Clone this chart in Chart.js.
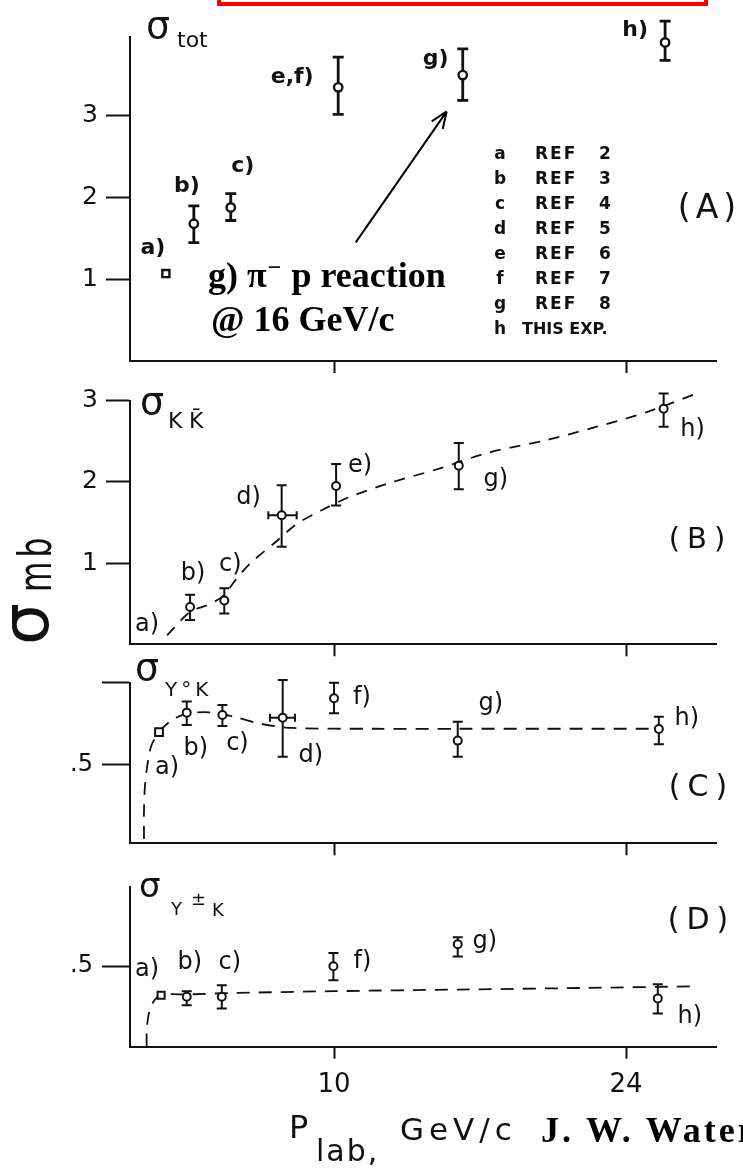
<!DOCTYPE html>
<html>
<head>
<meta charset="utf-8">
<script src="https://cdn.jsdelivr.net/npm/chart.js@4/dist/chart.umd.min.js"></script>
<style>
  html, body { margin: 0; padding: 0; background: #fff; }
  #wrap { position: relative; width: 743px; height: 1173px; overflow: hidden; background: #fff; }
  #wrap canvas { position: absolute; left: 0; top: 0; }
</style>
</head>
<body>
<div id="wrap">
  <canvas id="panelA" width="743" height="1173"></canvas>
  <canvas id="panelB" width="743" height="1173"></canvas>
  <canvas id="panelC" width="743" height="1173"></canvas>
  <canvas id="panelD" width="743" height="1173"></canvas>
</div>
<script>
// ---------------- data ----------------
// beam momentum axis (GeV/c), shared by all four panels
const pMin = 0.22, pMax = 28.31;
const xTickValues = [10, 24];
const xTickLabels = ['10', '24'];

// (A) total cross section sigma_tot (mb)
const totLetters = ['a', 'b', 'c', 'e,f', 'g', 'h'];
const totP       = [1.94, 3.28, 5.05, 10.2, 16.17, 25.87];
const totSigma   = [1.07, 1.68, 1.88, 3.35, 3.50, 3.90];
const totHi      = [null, 1.90, 2.05, 3.72, 3.82, 4.16];
const totLo      = [null, 1.45, 1.72, 3.02, 3.19, 3.68];
const totTicks      = [1, 2, 3];
const totTickLabels = ['1', '2', '3'];

// (B) sigma_KKbar (mb)
const kkLetters = ['b', 'c', 'd', 'e', 'g', 'h'];
const kkP       = [3.10, 4.74, 7.49, 10.1, 15.98, 25.8];
const kkSigma   = [0.46, 0.54, 1.59, 1.95, 2.20, 2.90];
const kkHi      = [0.61, 0.69, 1.96, 2.22, 2.48, 3.09];
const kkLo      = [0.30, 0.38, 1.20, 1.71, 1.91, 2.68];
const kkPLo     = [null, null, 6.85, null, null, null];
const kkPHi     = [null, null, 8.21, null, null, null];
const kkCurveP     = [2.0, 3.1, 4.0, 4.7, 5.3, 6.0, 7.2, 8.2, 9.4, 10.7, 12.7, 15.0, 17.4, 20.1, 22.6, 25.0, 27.4];
const kkCurveSigma = [0.11, 0.40, 0.49, 0.60, 0.80, 1.00, 1.26, 1.48, 1.65, 1.81, 1.99, 2.16, 2.36, 2.51, 2.68, 2.86, 3.09];
const kkTicks      = [1, 2, 3];
const kkTickLabels = ['1', '2', '3'];

// (C) sigma_Y0K (mb)
const y0Letters = ['a', 'b', 'c', 'd', 'f', 'g', 'h'];
const y0P       = [1.61, 2.94, 4.65, 7.54, 10.0, 15.93, 25.57];
const y0Sigma   = [0.70, 0.818, 0.804, 0.787, 0.905, 0.648, 0.719];
const y0Hi      = [null, 0.885, 0.865, 1.016, 1.0, 0.763, 0.793];
const y0Lo      = [null, 0.743, 0.737, 0.55, 0.814, 0.55, 0.626];
const y0PLo     = [null, null, null, 6.93, null, null, null];
const y0PHi     = [null, null, null, 8.13, null, null, null];
const y0CurveP     = [0.89, 0.89, 0.93, 1.02, 1.12, 1.25, 1.61, 2.2, 2.9, 4.0, 5.3, 6.5, 8.0, 12, 16, 20, 25.3];
const y0CurveSigma = [0.05, 0.22, 0.36, 0.47, 0.55, 0.62, 0.70, 0.77, 0.81, 0.82, 0.79, 0.75, 0.725, 0.72, 0.72, 0.72, 0.72];
const y0Ticks      = [0.5, 1.0];
const y0TickLabels = ['.5', ''];

// (D) sigma_Y±K (mb)
const ycLetters = ['a', 'b', 'c', 'f', 'g', 'h'];
const ycP       = [1.71, 2.94, 4.62, 9.97, 15.93, 25.52];
const ycSigma   = [0.32, 0.31, 0.31, 0.50, 0.636, 0.30];
const ycHi      = [null, 0.345, 0.382, 0.582, 0.68, 0.388];
const ycLo      = [null, 0.258, 0.238, 0.413, 0.56, 0.207];
const ycCurveP     = [1.02, 1.02, 1.1, 1.3, 1.71, 3, 5, 10, 16, 22, 27.3];
const ycCurveSigma = [0.0, 0.09, 0.19, 0.27, 0.32, 0.325, 0.333, 0.345, 0.355, 0.365, 0.375];
const ycTicks      = [0.5];
const ycTickLabels = ['.5'];

// reference key
const legendKeys = ['a', 'b', 'c', 'd', 'e', 'f', 'g', 'h'];
const legendRefs = ['REF', 'REF', 'REF', 'REF', 'REF', 'REF', 'REF', 'THIS EXP.'];
const legendNums = ['2', '3', '4', '5', '6', '7', '8', ''];

// ---------------- styling ----------------
const W = 743, H = 1173;
const INK = '#111';
const SANS = '"DejaVu Sans", "Liberation Sans", sans-serif';
const SERIF = '"Liberation Serif", "DejaVu Serif", serif';
const PLOT_RIGHT = 716;

Chart.defaults.font.family = SANS;
Chart.defaults.color = INK;

const specs = {
  panelA: {
    letters: totLetters, p: totP, sigma: totSigma, hi: totHi, lo: totLo,
    yTicks: totTicks, yTickLabels: totTickLabels, yMin: 0, yMax: 3.97,
    top: 36.7, bottom: 361, yTickLen: 24, yTickPad: 8, yFont: 25, showX: false, xHeight: 0,
    barW: 2.8, capW: 5.5, r: 4.2, sq: 5, pw: 2.4,
    labelFont: 'bold 22px ' + SANS,
    offsets: { 'a': [-13, -25], 'b': [-7, -37], 'c': [12, -41], 'e,f': [-46, -10], 'g': [-27, -16], 'h': [-30, -12] },
    tag: { text: '(A)', x: 707, y: 209, size: 33, spacing: 5 },
    title: [ { t: 'σ', x: 146, y: 38, f: '38px' }, { t: 'tot', x: 177, y: 47, f: '22px' } ]
  },
  panelB: {
    letters: kkLetters, p: kkP, sigma: kkSigma, hi: kkHi, lo: kkLo, pLo: kkPLo, pHi: kkPHi,
    curveP: kkCurveP, curveSigma: kkCurveSigma, dash: [11, 9],
    yTicks: kkTicks, yTickLabels: kkTickLabels, yMin: 0, yMax: 3.0,
    top: 400.7, bottom: 644.3, yTickLen: 24, yTickPad: 8, yFont: 25, showX: false, xHeight: 0,
    barW: 2, capW: 5, r: 4, sq: 5, pw: 2,
    labelFont: '24px ' + SANS,
    curveLabel: { text: 'a)', d: [-20, -11] },
    offsets: { 'b': [3, -33], 'c': [6, -36], 'd': [-33, -17], 'e': [24, -20], 'g': [37, 14], 'h': [29, 21] },
    tag: { text: '(B)', x: 697, y: 540, size: 29, spacing: 7 },
    title: [ { t: 'σ', x: 140, y: 414, f: '38px' }, { t: 'K', x: 168, y: 428, f: '22px' }, { t: 'K\u0304', x: 189, y: 428, f: '22px' } ]
  },
  panelC: {
    letters: y0Letters, p: y0P, sigma: y0Sigma, hi: y0Hi, lo: y0Lo, pLo: y0PLo, pHi: y0PHi,
    curveP: y0CurveP, curveSigma: y0CurveSigma, dash: [13, 9],
    yTicks: y0Ticks, yTickLabels: y0TickLabels, yMin: 0.024, yMax: 1.0,
    top: 682.7, bottom: 843.3, yTickLen: 28, yTickPad: 9, yFont: 24, showX: false, xHeight: 0,
    barW: 2, capW: 5, r: 4, sq: 5.5, pw: 2,
    labelFont: '24px ' + SANS,
    offsets: { 'a': [8, 36], 'b': [9, 36], 'c': [15, 29], 'd': [28, 38], 'f': [28, -1], 'g': [33, -37], 'h': [28, -10] },
    tag: { text: '(C)', x: 698, y: 788, size: 30, spacing: 7 },
    title: [ { t: 'σ', x: 135, y: 680, f: '38px' }, { t: 'Y°K', x: 165, y: 696, f: '20px', ls: 4 } ]
  },
  panelD: {
    letters: ycLetters, p: ycP, sigma: ycSigma, hi: ycHi, lo: ycLo,
    curveP: ycCurveP, curveSigma: ycCurveSigma, dash: [13, 9],
    yTicks: ycTicks, yTickLabels: ycTickLabels, yMin: 0, yMax: 0.994,
    top: 886.7, bottom: 1046.7, yTickLen: 28, yTickPad: 9, yFont: 24, showX: true, xHeight: 60,
    barW: 2, capW: 5, r: 4, sq: 5, pw: 2,
    labelFont: '24px ' + SANS,
    offsets: { 'a': [-14, -25], 'b': [3, -34], 'c': [8, -34], 'f': [29, -4], 'g': [27, -3], 'h': [32, 18] },
    tag: { text: '(D)', x: 698, y: 921, size: 30, spacing: 7 },
    title: [ { t: 'σ', x: 139, y: 897, f: '34px' }, { t: 'Y', x: 171, y: 915, f: '18px' }, { t: '±', x: 191, y: 905, f: '18px' }, { t: 'K', x: 212, y: 916, f: '18px' } ]
  }
};

// error bars under the markers, letter labels, panel tag and sigma title on top
const panelDecor = {
  id: 'panelDecor',
  beforeDatasetsDraw(chart) {
    const s = specs[chart.canvas.id];
    const ctx = chart.ctx, xs = chart.scales.x, ys = chart.scales.y;
    ctx.save();
    ctx.strokeStyle = INK;
    ctx.lineWidth = s.barW;
    s.p.forEach((p, i) => {
      const x = xs.getPixelForValue(p);
      if (s.hi[i] != null) {
        const y1 = ys.getPixelForValue(s.hi[i]);
        const y2 = ys.getPixelForValue(s.lo[i]);
        ctx.beginPath();
        ctx.moveTo(x, y1); ctx.lineTo(x, y2);
        ctx.moveTo(x - s.capW, y1); ctx.lineTo(x + s.capW, y1);
        ctx.moveTo(x - s.capW, y2); ctx.lineTo(x + s.capW, y2);
        ctx.stroke();
      }
      if (s.pLo && s.pLo[i] != null) {
        const y = ys.getPixelForValue(s.sigma[i]);
        const x1 = xs.getPixelForValue(s.pLo[i]);
        const x2 = xs.getPixelForValue(s.pHi[i]);
        ctx.beginPath();
        ctx.moveTo(x1, y); ctx.lineTo(x2, y);
        ctx.moveTo(x1, y - 4); ctx.lineTo(x1, y + 4);
        ctx.moveTo(x2, y - 4); ctx.lineTo(x2, y + 4);
        ctx.stroke();
      }
    });
    ctx.restore();
  },
  afterDraw(chart) {
    const s = specs[chart.canvas.id];
    const ctx = chart.ctx, xs = chart.scales.x, ys = chart.scales.y;
    ctx.save();
    ctx.fillStyle = INK;
    ctx.textAlign = 'center';
    ctx.textBaseline = 'middle';
    ctx.font = s.labelFont;
    s.letters.forEach((l, i) => {
      const d = s.offsets[l];
      if (!d) return;
      ctx.fillText(l + ')', xs.getPixelForValue(s.p[i]) + d[0], ys.getPixelForValue(s.sigma[i]) + d[1]);
    });
    if (s.curveLabel) {
      const d = s.curveLabel.d;
      ctx.fillText(s.curveLabel.text, xs.getPixelForValue(s.curveP[0]) + d[0], ys.getPixelForValue(s.curveSigma[0]) + d[1]);
    }
    // panel tag
    ctx.font = s.tag.size + 'px ' + SANS;
    ctx.letterSpacing = s.tag.spacing + 'px';
    ctx.fillText(s.tag.text, s.tag.x + s.tag.spacing / 2, s.tag.y);
    // sigma title with subscripts
    ctx.textAlign = 'left';
    ctx.textBaseline = 'alphabetic';
    s.title.forEach(part => {
      ctx.font = part.f + ' ' + SANS;
      ctx.letterSpacing = (part.ls || 0) + 'px';
      ctx.fillText(part.t, part.x, part.y);
    });
    ctx.letterSpacing = '0px';
    ctx.restore();
  }
};

// page-wide lettering: frame, note with arrow, reference key, axis titles
const pageDecor = {
  id: 'pageDecor',
  afterDraw(chart) {
    const ctx = chart.ctx;
    ctx.save();
    ctx.strokeStyle = '#ff0000';
    ctx.lineWidth = 4;
    ctx.strokeRect(219, -20, 487, 24);

    // arrow pointing at the 16 GeV/c total cross-section point
    const gi = totLetters.indexOf('g');
    const gx = chart.scales.x.getPixelForValue(totP[gi]);
    const gy = chart.scales.y.getPixelForValue(totLo[gi]);
    const tip = { x: gx - 16, y: gy + 11 };
    const tail = { x: tip.x - 91, y: tip.y + 131 };
    ctx.strokeStyle = '#000';
    ctx.lineWidth = 2;
    ctx.beginPath();
    ctx.moveTo(tail.x, tail.y); ctx.lineTo(tip.x, tip.y);
    const ang = Math.atan2(tip.y - tail.y, tip.x - tail.x);
    [0.38, -0.38].forEach(a => {
      ctx.moveTo(tip.x, tip.y);
      ctx.lineTo(tip.x - 18 * Math.cos(ang + a), tip.y - 18 * Math.sin(ang + a));
    });
    ctx.stroke();

    // note text
    ctx.fillStyle = '#000';
    ctx.textAlign = 'left';
    ctx.textBaseline = 'alphabetic';
    ctx.font = 'bold 36px ' + SERIF;
    let x = 208;
    ctx.fillText('g) π', x, 287);
    x += ctx.measureText('g) π').width;
    ctx.font = 'bold 24px ' + SERIF;
    ctx.fillText('\u2212', x + 1, 275);
    x += ctx.measureText('\u2212').width + 2;
    ctx.font = 'bold 36px ' + SERIF;
    ctx.fillText(' p reaction', x, 287);
    ctx.fillText('@ 16 GeV/c', 211, 331);

    // reference key
    ctx.fillStyle = INK;
    ctx.textBaseline = 'middle';
    legendKeys.forEach((k, i) => {
      const y = 155 + i * 25;
      ctx.font = 'bold 17px ' + SANS;
      ctx.textAlign = 'center';
      ctx.letterSpacing = '0px';
      ctx.fillText(k, 500, y);
      ctx.textAlign = 'left';
      if (legendNums[i]) {
        ctx.letterSpacing = '2px';
        ctx.fillText(legendRefs[i], 535, y);
        ctx.letterSpacing = '0px';
        ctx.textAlign = 'center';
        ctx.fillText(legendNums[i], 605, y);
      } else {
        ctx.font = 'bold 16px ' + SANS;
        ctx.letterSpacing = '0px';
        ctx.fillText(legendRefs[i], 522, y);
      }
    });

    // vertical axis title, reading upward
    ctx.textAlign = 'left';
    ctx.textBaseline = 'alphabetic';
    ctx.letterSpacing = '0px';
    ctx.save();
    ctx.translate(48, 645);
    ctx.rotate(-Math.PI / 2);
    ctx.font = '66px ' + SANS;
    ctx.fillText('σ', 0, 0);
    ctx.restore();
    ctx.save();
    ctx.translate(51, 592);
    ctx.rotate(-Math.PI / 2);
    ctx.scale(0.68, 1);
    ctx.font = '46px ' + SANS;
    ctx.letterSpacing = '6px';
    ctx.fillText('mb', 0, 0);
    ctx.restore();

    // horizontal axis title and author
    ctx.letterSpacing = '0px';
    ctx.font = '32px ' + SANS;
    ctx.fillText('P', 289, 1138);
    ctx.font = '30px ' + SANS;
    ctx.letterSpacing = '2px';
    ctx.fillText('lab,', 316, 1161);
    ctx.font = '31px ' + SANS;
    ctx.letterSpacing = '5px';
    ctx.fillText('GeV/c', 400, 1140);
    ctx.font = 'bold 36px ' + SERIF;
    ctx.letterSpacing = '3px';
    ctx.fillStyle = '#000';
    ctx.fillText('J. W. Waters', 541, 1142);
    ctx.letterSpacing = '0px';
    ctx.restore();
  }
};

function makePanel(id, extraPlugins) {
  const s = specs[id];
  const datasets = [];
  if (s.curveP) {
    datasets.push({
      type: 'line',
      data: s.curveP.map((p, i) => ({ x: p, y: s.curveSigma[i] })),
      showLine: true, borderColor: INK, borderWidth: 1.8, borderDash: s.dash,
      pointRadius: 0, tension: 0.3, fill: false, clip: false, order: 2
    });
  }
  datasets.push({
    type: 'scatter',
    data: s.p.map((p, i) => ({ x: p, y: s.sigma[i] })),
    showLine: false,
    pointStyle: s.letters.map(l => (l === 'a' ? 'rect' : 'circle')),
    pointRadius: s.letters.map(l => (l === 'a' ? s.sq : s.r)),
    pointBorderWidth: s.pw,
    pointBackgroundColor: '#fff',
    pointBorderColor: INK,
    clip: false, order: 1
  });

  return new Chart(document.getElementById(id), {
    type: 'scatter',
    data: { datasets },
    options: {
      responsive: false,
      animation: false,
      devicePixelRatio: 1,
      events: [],
      layout: { padding: { left: 0, right: W - PLOT_RIGHT, top: s.top, bottom: H - s.bottom - s.xHeight } },
      plugins: { legend: { display: false }, tooltip: { enabled: false } },
      scales: {
        x: {
          type: 'linear', min: pMin, max: pMax,
          afterFit(scale) { scale.height = s.xHeight; },
          afterBuildTicks(scale) { scale.ticks = xTickValues.map(v => ({ value: v })); },
          grid: { display: true, drawOnChartArea: false, drawTicks: true, tickLength: 12, tickWidth: 2, tickColor: INK },
          border: { display: true, color: INK, width: 2 },
          ticks: {
            display: s.showX, autoSkip: false, maxRotation: 0, minRotation: 0, padding: 11, color: INK,
            font: { family: SANS, size: 26 },
            callback: v => { const k = xTickValues.indexOf(v); return k >= 0 ? xTickLabels[k] : ''; }
          }
        },
        y: {
          type: 'linear', min: s.yMin, max: s.yMax,
          afterFit(scale) { scale.width = 130; },
          afterBuildTicks(scale) { scale.ticks = s.yTicks.map(v => ({ value: v })); },
          grid: { display: true, drawOnChartArea: false, drawTicks: true, tickLength: s.yTickLen, tickWidth: 2, tickColor: INK },
          border: { display: true, color: INK, width: 2 },
          ticks: {
            padding: s.yTickPad, color: INK, autoSkip: false,
            font: { family: SANS, size: s.yFont },
            callback: v => { const k = s.yTicks.indexOf(v); return k >= 0 ? s.yTickLabels[k] : ''; }
          }
        }
      }
    },
    plugins: [panelDecor].concat(extraPlugins || [])
  });
}

makePanel('panelA', [pageDecor]);
makePanel('panelB');
makePanel('panelC');
makePanel('panelD');
</script>
</body>
</html>
